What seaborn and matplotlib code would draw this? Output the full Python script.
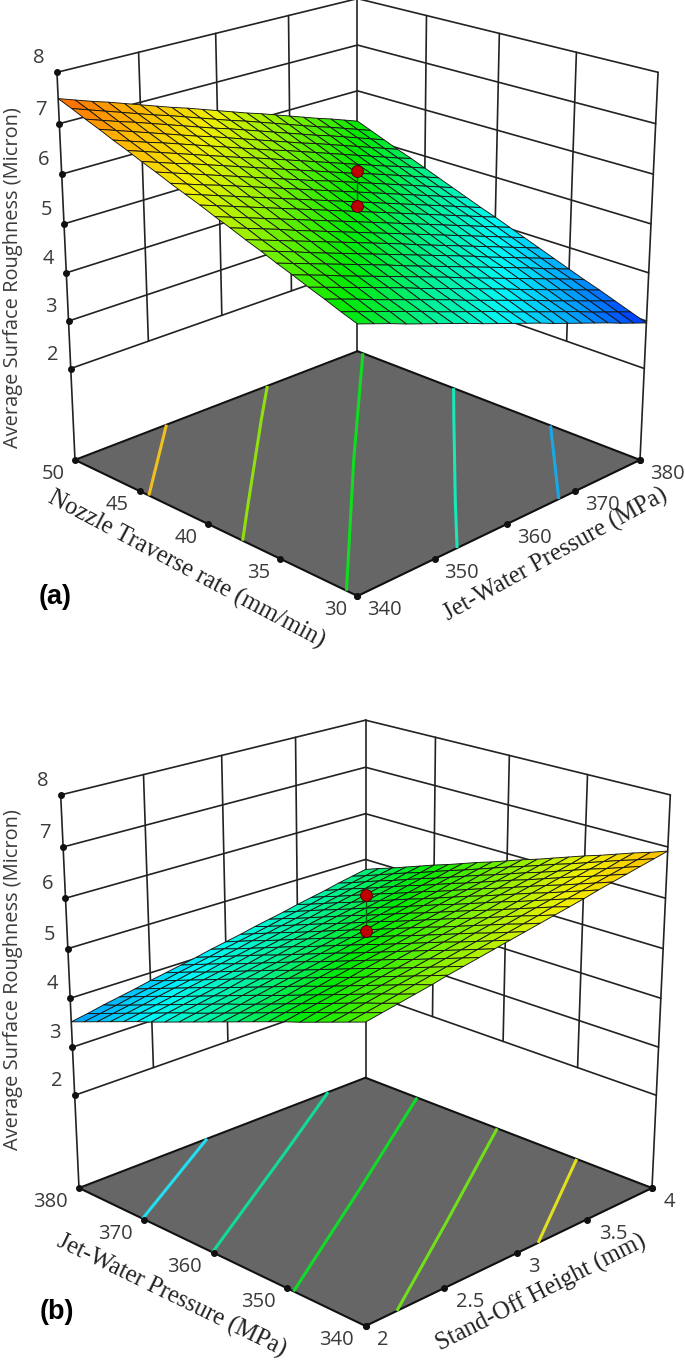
import numpy as np
import matplotlib
matplotlib.use("Agg")
import matplotlib.pyplot as plt
import seaborn as sns
from mpl_toolkits.mplot3d import proj3d

# === DATA ===
traverse_ticks = [30, 35, 40, 45, 50]
pressure_ticks = [340, 350, 360, 370, 380]
standoff_ticks = [2, 2.5, 3, 3.5, 4]
standoff_labels = ["2", "2.5", "3", "3.5", "4"]
roughness_ticks = [2, 3, 4, 5, 6, 7, 8]
floor_z = 0.03

traverse_grid = [30, 31, 32, 33, 34, 35, 36, 37, 38, 39, 40, 41, 42, 43, 44, 45, 46, 47, 48, 49, 50]
pressure_grid = [340, 342, 344, 346, 348, 350, 352, 354, 356, 358, 360, 362, 364, 366, 368, 370, 372, 374, 376, 378, 380]
standoff_grid = [2.0, 2.1, 2.2, 2.3, 2.4, 2.5, 2.6, 2.7, 2.8, 2.9, 3.0, 3.1, 3.2, 3.3, 3.4, 3.5, 3.6, 3.7, 3.8, 3.9, 4.0]

# rows follow the first axis, columns the second one
surface_a = [
    [5.20, 5.09, 4.98, 4.86, 4.75, 4.64, 4.53, 4.42, 4.30, 4.19, 4.08, 3.97, 3.86, 3.74, 3.63, 3.52, 3.41, 3.30, 3.18, 3.07, 2.96],
    [5.31, 5.20, 5.09, 4.98, 4.87, 4.76, 4.64, 4.53, 4.42, 4.31, 4.20, 4.08, 3.97, 3.86, 3.75, 3.64, 3.53, 3.41, 3.30, 3.19, 3.08],
    [5.43, 5.32, 5.21, 5.09, 4.98, 4.87, 4.76, 4.65, 4.54, 4.42, 4.31, 4.20, 4.09, 3.98, 3.87, 3.75, 3.64, 3.53, 3.42, 3.31, 3.20],
    [5.54, 5.43, 5.32, 5.21, 5.10, 4.99, 4.88, 4.76, 4.65, 4.54, 4.43, 4.32, 4.21, 4.10, 3.98, 3.87, 3.76, 3.65, 3.54, 3.43, 3.32],
    [5.66, 5.55, 5.44, 5.32, 5.21, 5.10, 4.99, 4.88, 4.77, 4.66, 4.55, 4.43, 4.32, 4.21, 4.10, 3.99, 3.88, 3.77, 3.66, 3.55, 3.43],
    [5.77, 5.66, 5.55, 5.44, 5.33, 5.22, 5.11, 5.00, 4.88, 4.77, 4.66, 4.55, 4.44, 4.33, 4.22, 4.11, 4.00, 3.89, 3.77, 3.66, 3.55],
    [5.89, 5.78, 5.67, 5.55, 5.44, 5.33, 5.22, 5.11, 5.00, 4.89, 4.78, 4.67, 4.56, 4.45, 4.34, 4.22, 4.11, 4.00, 3.89, 3.78, 3.67],
    [6.00, 5.89, 5.78, 5.67, 5.56, 5.45, 5.34, 5.23, 5.12, 5.01, 4.90, 4.78, 4.67, 4.56, 4.45, 4.34, 4.23, 4.12, 4.01, 3.90, 3.79],
    [6.12, 6.01, 5.90, 5.79, 5.67, 5.56, 5.45, 5.34, 5.23, 5.12, 5.01, 4.90, 4.79, 4.68, 4.57, 4.46, 4.35, 4.24, 4.13, 4.02, 3.91],
    [6.23, 6.12, 6.01, 5.90, 5.79, 5.68, 5.57, 5.46, 5.35, 5.24, 5.13, 5.02, 4.91, 4.80, 4.69, 4.58, 4.47, 4.36, 4.25, 4.14, 4.03],
    [6.35, 6.24, 6.13, 6.02, 5.91, 5.80, 5.69, 5.58, 5.47, 5.36, 5.25, 5.14, 5.03, 4.92, 4.81, 4.70, 4.59, 4.48, 4.37, 4.26, 4.15],
    [6.46, 6.35, 6.24, 6.13, 6.02, 5.91, 5.80, 5.69, 5.58, 5.47, 5.36, 5.25, 5.14, 5.03, 4.92, 4.81, 4.70, 4.59, 4.48, 4.37, 4.26],
    [6.57, 6.46, 6.35, 6.25, 6.14, 6.03, 5.92, 5.81, 5.70, 5.59, 5.48, 5.37, 5.26, 5.15, 5.04, 4.93, 4.82, 4.71, 4.60, 4.49, 4.38],
    [6.69, 6.58, 6.47, 6.36, 6.25, 6.14, 6.03, 5.92, 5.81, 5.70, 5.59, 5.49, 5.38, 5.27, 5.16, 5.05, 4.94, 4.83, 4.72, 4.61, 4.50],
    [6.80, 6.69, 6.58, 6.48, 6.37, 6.26, 6.15, 6.04, 5.93, 5.82, 5.71, 5.60, 5.49, 5.38, 5.27, 5.17, 5.06, 4.95, 4.84, 4.73, 4.62],
    [6.92, 6.81, 6.70, 6.59, 6.48, 6.37, 6.26, 6.15, 6.05, 5.94, 5.83, 5.72, 5.61, 5.50, 5.39, 5.28, 5.17, 5.06, 4.96, 4.85, 4.74],
    [7.03, 6.92, 6.81, 6.71, 6.60, 6.49, 6.38, 6.27, 6.16, 6.05, 5.94, 5.84, 5.73, 5.62, 5.51, 5.40, 5.29, 5.18, 5.07, 4.96, 4.86],
    [7.15, 7.04, 6.93, 6.82, 6.71, 6.60, 6.49, 6.39, 6.28, 6.17, 6.06, 5.95, 5.84, 5.73, 5.63, 5.52, 5.41, 5.30, 5.19, 5.08, 4.97],
    [7.26, 7.15, 7.04, 6.94, 6.83, 6.72, 6.61, 6.50, 6.39, 6.29, 6.18, 6.07, 5.96, 5.85, 5.74, 5.63, 5.53, 5.42, 5.31, 5.20, 5.09],
    [7.38, 7.27, 7.16, 7.05, 6.94, 6.83, 6.73, 6.62, 6.51, 6.40, 6.29, 6.19, 6.08, 5.97, 5.86, 5.75, 5.64, 5.54, 5.43, 5.32, 5.21],
    [7.49, 7.38, 7.27, 7.17, 7.06, 6.95, 6.84, 6.73, 6.63, 6.52, 6.41, 6.30, 6.19, 6.09, 5.98, 5.87, 5.76, 5.65, 5.55, 5.44, 5.33],
]
surface_b = [
    [5.70, 5.76, 5.82, 5.88, 5.94, 6.01, 6.07, 6.13, 6.19, 6.25, 6.31, 6.37, 6.43, 6.49, 6.55, 6.62, 6.68, 6.74, 6.80, 6.86, 6.92],
    [5.59, 5.65, 5.71, 5.77, 5.84, 5.90, 5.96, 6.02, 6.08, 6.14, 6.20, 6.26, 6.32, 6.39, 6.45, 6.51, 6.57, 6.63, 6.69, 6.75, 6.81],
    [5.48, 5.54, 5.61, 5.67, 5.73, 5.79, 5.85, 5.91, 5.97, 6.03, 6.09, 6.16, 6.22, 6.28, 6.34, 6.40, 6.46, 6.52, 6.58, 6.65, 6.71],
    [5.37, 5.43, 5.50, 5.56, 5.62, 5.68, 5.74, 5.80, 5.86, 5.92, 5.99, 6.05, 6.11, 6.17, 6.23, 6.29, 6.35, 6.42, 6.48, 6.54, 6.60],
    [5.26, 5.33, 5.39, 5.45, 5.51, 5.57, 5.63, 5.69, 5.76, 5.82, 5.88, 5.94, 6.00, 6.06, 6.12, 6.19, 6.25, 6.31, 6.37, 6.43, 6.49],
    [5.16, 5.22, 5.28, 5.34, 5.40, 5.46, 5.52, 5.59, 5.65, 5.71, 5.77, 5.83, 5.89, 5.95, 6.02, 6.08, 6.14, 6.20, 6.26, 6.32, 6.39],
    [5.05, 5.11, 5.17, 5.23, 5.29, 5.35, 5.42, 5.48, 5.54, 5.60, 5.66, 5.72, 5.79, 5.85, 5.91, 5.97, 6.03, 6.09, 6.15, 6.22, 6.28],
    [4.94, 5.00, 5.06, 5.12, 5.18, 5.25, 5.31, 5.37, 5.43, 5.49, 5.55, 5.62, 5.68, 5.74, 5.80, 5.86, 5.92, 5.99, 6.05, 6.11, 6.17],
    [4.83, 4.89, 4.95, 5.01, 5.08, 5.14, 5.20, 5.26, 5.32, 5.38, 5.45, 5.51, 5.57, 5.63, 5.69, 5.76, 5.82, 5.88, 5.94, 6.00, 6.06],
    [4.72, 4.78, 4.84, 4.90, 4.97, 5.03, 5.09, 5.15, 5.21, 5.28, 5.34, 5.40, 5.46, 5.52, 5.59, 5.65, 5.71, 5.77, 5.83, 5.90, 5.96],
    [4.61, 4.67, 4.73, 4.80, 4.86, 4.92, 4.98, 5.04, 5.11, 5.17, 5.23, 5.29, 5.35, 5.42, 5.48, 5.54, 5.60, 5.66, 5.73, 5.79, 5.85],
    [4.50, 4.56, 4.63, 4.69, 4.75, 4.81, 4.87, 4.94, 5.00, 5.06, 5.12, 5.18, 5.25, 5.31, 5.37, 5.43, 5.49, 5.56, 5.62, 5.68, 5.74],
    [4.39, 4.45, 4.52, 4.58, 4.64, 4.70, 4.77, 4.83, 4.89, 4.95, 5.01, 5.08, 5.14, 5.20, 5.26, 5.33, 5.39, 5.45, 5.51, 5.57, 5.64],
    [4.28, 4.35, 4.41, 4.47, 4.53, 4.60, 4.66, 4.72, 4.78, 4.84, 4.91, 4.97, 5.03, 5.09, 5.16, 5.22, 5.28, 5.34, 5.40, 5.47, 5.53],
    [4.17, 4.24, 4.30, 4.36, 4.42, 4.49, 4.55, 4.61, 4.67, 4.74, 4.80, 4.86, 4.92, 4.99, 5.05, 5.11, 5.17, 5.24, 5.30, 5.36, 5.42],
    [4.07, 4.13, 4.19, 4.25, 4.32, 4.38, 4.44, 4.50, 4.57, 4.63, 4.69, 4.75, 4.82, 4.88, 4.94, 5.00, 5.07, 5.13, 5.19, 5.25, 5.32],
    [3.96, 4.02, 4.08, 4.14, 4.21, 4.27, 4.33, 4.39, 4.46, 4.52, 4.58, 4.64, 4.71, 4.77, 4.83, 4.89, 4.96, 5.02, 5.08, 5.15, 5.21],
    [3.85, 3.91, 3.97, 4.04, 4.10, 4.16, 4.22, 4.29, 4.35, 4.41, 4.47, 4.54, 4.60, 4.66, 4.73, 4.79, 4.85, 4.91, 4.98, 5.04, 5.10],
    [3.74, 3.80, 3.86, 3.93, 3.99, 4.05, 4.12, 4.18, 4.24, 4.30, 4.37, 4.43, 4.49, 4.55, 4.62, 4.68, 4.74, 4.81, 4.87, 4.93, 4.99],
    [3.63, 3.69, 3.75, 3.82, 3.88, 3.94, 4.01, 4.07, 4.13, 4.20, 4.26, 4.32, 4.38, 4.45, 4.51, 4.57, 4.64, 4.70, 4.76, 4.82, 4.89],
    [3.52, 3.58, 3.65, 3.71, 3.77, 3.84, 3.90, 3.96, 4.02, 4.09, 4.15, 4.21, 4.28, 4.34, 4.40, 4.47, 4.53, 4.59, 4.66, 4.72, 4.78],
]

levels_a = [3.66, 4.47, 5.28, 6.07, 6.84]
level_colors_a = ["#18a8e8", "#18e8b8", "#10dc20", "#90e010", "#f0c020"]
levels_b = [4.05, 4.60, 5.20, 5.82, 6.40]
level_colors_b = ["#20e0f0", "#10dc98", "#10dc28", "#70e018", "#e0e020"]

points_a = [(40, 360, 6.06), (40, 360, 5.36)]
points_b = [(360, 3, 6.07), (360, 3, 5.36)]

# === STYLE ===
sns.set_theme(style="white")
plt.rcParams["font.family"] = ["Open Sans", "DejaVu Sans"]
TICK_COLOR = "#3a3a3a"
FIG_W, FIG_H = 685, 1360
surface_cmap = sns.blend_palette(
    ["#0030ff", "#00a0ff", "#00f8f8", "#00f090", "#00e800", "#80f000", "#f0f000", "#ffb000", "#ff5000"],
    as_cmap=True,
)


def project(ax, x, y, z):
    u, v, _ = proj3d.proj_transform(x, y, z, ax.get_proj())
    return float(u), float(v)


def place_axes(ax, floor_corners, left_px, right_px, front_y_px):
    """Scale and move the 3D axes so the floor corners land on the wanted pixels."""
    left, right, front = floor_corners
    u_l, _ = project(ax, *left)
    u_r, _ = project(ax, *right)
    _, v_f = project(ax, *front)
    px_per_unit = (right_px - left_px) / (u_r - u_l)
    side = px_per_unit * ax.viewLim.width
    x0 = left_px - px_per_unit * (u_l - ax.viewLim.x0)
    y0 = (FIG_H - front_y_px) - px_per_unit * (v_f - ax.viewLim.y0)
    ax.set_position([x0 / FIG_W, y0 / FIG_H, side / FIG_W, side / FIG_H])


def tick_label(ax, x, y, z, text, dx, dy):
    u, v = project(ax, x, y, z)
    ax.annotate(text, xy=(u, v), xycoords="data", xytext=(dx, -dy), textcoords="offset pixels",
                ha="center", va="center", fontsize=14.5, color=TICK_COLOR, annotation_clip=False)


def draw_panel(fig, xs, ys, surface, x_ticks, y_ticks, x_labels, y_labels, levels, level_colors, points,
               left_px, right_px, front_y_px, elev, focal):
    ax = fig.add_axes([0, 0, 1, 1], projection="3d", computed_zorder=False, proj_type="persp", focal_length=focal)
    ax.set_axis_off()
    ax.patch.set_alpha(0)
    ax.set_xlim(max(xs), min(xs))
    ax.set_ylim(min(ys), max(ys))
    ax.set_zlim(floor_z, max(roughness_ticks))
    ax.set_box_aspect((1, 1, 1.005))
    ax.view_init(elev=elev, azim=-45)

    x_front, x_back = min(xs), max(xs)
    y_front, y_back = min(ys), max(ys)
    left = (x_back, y_front, floor_z)
    right = (x_front, y_back, floor_z)
    front = (x_front, y_front, floor_z)
    place_axes(ax, (left, right, front), left_px, right_px, front_y_px)

    X, Y = np.meshgrid(xs, ys, indexing="ij")
    Z = np.array(surface)

    # --- floor ---
    ax.plot_surface(np.array([[x_front, x_front], [x_back, x_back]]),
                    np.array([[y_front, y_back], [y_front, y_back]]),
                    np.full((2, 2), floor_z), color="#666666", shade=False, linewidth=0, zorder=1)
    for a, b in [((x_front, y_front), (x_back, y_front)), ((x_front, y_front), (x_front, y_back)),
                 ((x_back, y_front), (x_back, y_back)), ((x_front, y_back), (x_back, y_back))]:
        ax.plot([a[0], b[0]], [a[1], b[1]], [floor_z, floor_z], color="#111111", lw=1.5, zorder=2)

    # --- walls ---
    wall = dict(color="#222222", lw=1.2, zorder=0)
    for z in roughness_ticks:
        ax.plot([x_back, x_back], [y_front, y_back], [z, z], **wall)
        ax.plot([x_front, x_back], [y_back, y_back], [z, z], **wall)
    for y in y_ticks[1:-1]:
        ax.plot([x_back, x_back], [y, y], [2, 8], **wall)
    for x in x_ticks[1:-1]:
        ax.plot([x, x], [y_back, y_back], [2, 8], **wall)
    for x, y in [(x_back, y_front), (x_back, y_back), (x_front, y_back)]:
        ax.plot([x, x], [y, y], [floor_z, 8], **wall)

    # --- contours on the floor, from every tenth node so the rounding does not show ---
    ax.contour(X[::10, ::10], Y[::10, ::10], Z[::10, ::10], levels=levels, colors=level_colors, linewidths=2.2,
               zdir="z", offset=floor_z, zorder=3)

    # --- surface ---
    ax.plot_surface(X, Y, Z, rstride=1, cstride=1, cmap=surface_cmap, vmin=2.96, vmax=7.6, shade=False,
                    edgecolor="#151515", linewidth=0.65, zorder=4)

    # --- design points ---
    ax.plot([p[0] for p in points], [p[1] for p in points], [p[2] for p in points],
            color="#0a5a0a", lw=1.0, zorder=5)
    ax.plot([p[0] for p in points], [p[1] for p in points], [p[2] for p in points], ls="none", marker="o", ms=8.5,
            mfc="#c00000", mec="#4a0000", mew=0.7, zorder=6)

    # --- ticks ---
    dot = dict(ls="none", marker="o", ms=4, color="#111111", zorder=7)
    ax.plot([x_back] * len(roughness_ticks), [y_front] * len(roughness_ticks), roughness_ticks, **dot)
    ax.plot(x_ticks, [y_front] * len(x_ticks), [floor_z] * len(x_ticks), **dot)
    ax.plot([x_front] * len(y_ticks), y_ticks, [floor_z] * len(y_ticks), **dot)
    ax.plot([x_front], [y_back], [floor_z], **dot)

    for z in roughness_ticks:
        tick_label(ax, x_back, y_front, z, str(z), -18, -14)
    for x, text in zip(x_ticks, x_labels):
        tick_label(ax, x, y_front, floor_z, text, -22 if len(text) == 2 else -29, 14)
    for y, text in zip(y_ticks, y_labels):
        tick_label(ax, x_front, y, floor_z, text, 17 if len(text) == 1 else 27, 14)
    return ax


def fig_text(fig, x, y, text, **kwargs):
    fig.text(x / FIG_W, 1 - y / FIG_H, text, ha="center", va="center", **kwargs)


fig = plt.figure(figsize=(FIG_W / 100, FIG_H / 100), dpi=100)

draw_panel(fig, traverse_grid, pressure_grid, surface_a, traverse_ticks, pressure_ticks,
           [str(t) for t in traverse_ticks], [str(t) for t in pressure_ticks],
           levels_a, level_colors_a, points_a, 75, 640, 596, elev=20.7, focal=0.63)
draw_panel(fig, pressure_grid, standoff_grid, surface_b, pressure_ticks, standoff_ticks,
           [str(t) for t in pressure_ticks], standoff_labels,
           levels_b, level_colors_b, points_b, 79, 652, 1326, elev=20.7, focal=0.63)

ylabel = dict(fontsize=14.4, color=TICK_COLOR, rotation=90)
fig_text(fig, 13, 278, "Average Surface Roughness (Micron)", **ylabel)
fig_text(fig, 13, 980, "Average Surface Roughness (Micron)", **ylabel)

serif = dict(family="Liberation Serif", fontsize=17.7, color="#222222", rotation_mode="anchor")
fig_text(fig, 186, 570, "Nozzle Traverse rate (mm/min)", rotation=-28, **serif)
fig_text(fig, 556, 555, "Jet-Water Pressure (MPa)", rotation=29, **serif)
fig_text(fig, 171, 1296, "Jet-Water Pressure (MPa)", rotation=-26, **serif)
fig_text(fig, 541, 1293, "Stand-Off Height (mm)", rotation=27, **serif)

tag = dict(family="Liberation Sans", fontsize=19.5, fontweight="bold", color="black")
fig_text(fig, 55, 597, "(a)", **tag)
fig_text(fig, 57, 1312, "(b)", **tag)

fig.savefig("out.png", dpi=100)
